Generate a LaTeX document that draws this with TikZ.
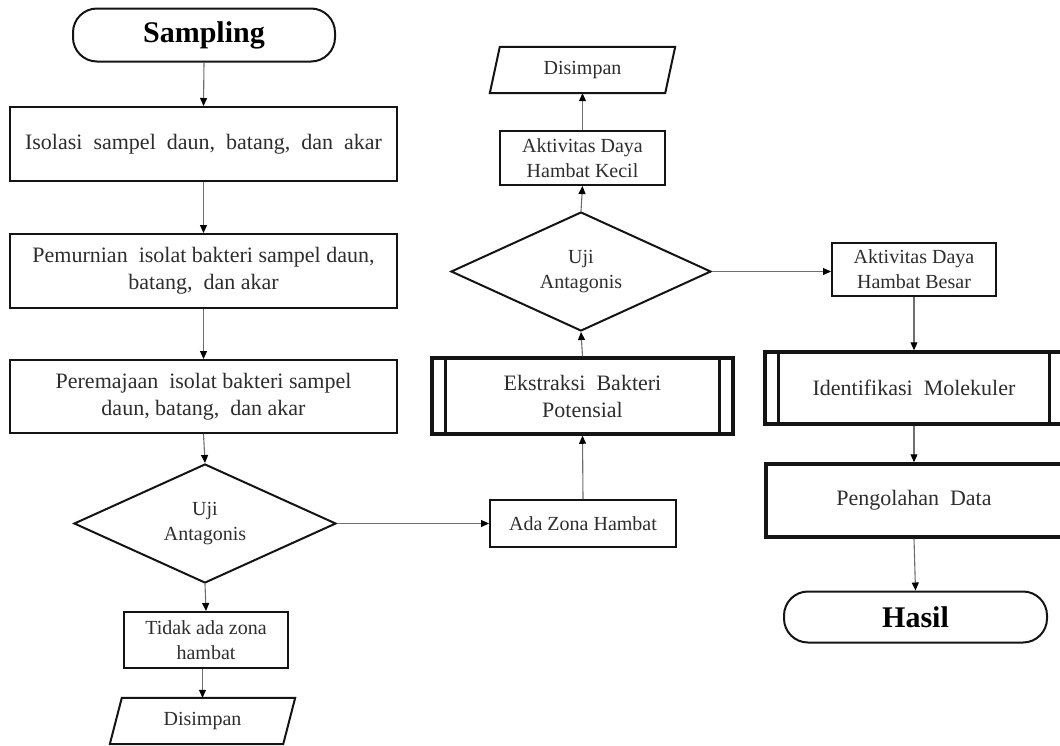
\documentclass[tikz,border=0pt]{standalone}
\usepackage{fontspec}
\setmainfont{Liberation Serif}
\usetikzlibrary{arrows.meta,shapes.geometric}
\definecolor{tc}{RGB}{45,45,45}
\definecolor{lc}{RGB}{20,20,20}
\definecolor{ac}{RGB}{110,110,110}
\begin{document}
\begin{tikzpicture}[x=1pt,y=-1pt,
  txt/.style={text=tc, font=\fontsize{22}{27}\selectfont, align=center},
  stxt/.style={text=tc, font=\fontsize{20}{25}\selectfont, align=center},
  box/.style={draw=lc, line width=2pt, inner sep=0pt, txt},
  sbox/.style={draw=lc, line width=2pt, inner sep=0pt, stxt},
  thickbox/.style={draw=lc, line width=3.5pt, inner sep=0pt, txt},
  term/.style={draw=lc, line width=2pt, rounded corners=24pt, inner sep=0pt, text=black, font=\fontsize{30}{34}\selectfont\bfseries},
  dec/.style={diamond, aspect=2.2, draw=lc, line width=2pt, inner sep=0pt, stxt},
  para/.style={inner sep=0pt, stxt},
  arr/.style={draw=ac, line width=1.1pt, -{Triangle[length=8pt,width=7pt,fill=black,color=black]}},
  bar/.style={draw=lc, line width=3pt},
  pline/.style={draw=lc, line width=2pt, line join=miter}
]
\useasboundingbox (0,0) rectangle (1060,745);
\clip (0,0) rectangle (1060,745);

% left column
\node[term, minimum width=262, minimum height=53] (samp) at (204,35) {Sampling};
\node[box, minimum width=387, minimum height=74] (b1) at (203.5,144) {Isolasi\ \ sampel\ \ daun,\ \ batang,\ \ dan\ \ akar};
\node[box, minimum width=387, minimum height=74] (b2) at (203.5,271) {Pemurnian\ \ isolat\ bakteri\ sampel\ daun,\\batang,\ \ dan\ akar};
\node[box, minimum width=387, minimum height=73] (b3) at (203.5,396.5) {Peremajaan\ \ isolat\ bakteri\ sampel\\daun,\ batang,\ \ dan\ akar};
\node[dec, minimum width=262, minimum height=119] (d1) at (205,523.5) {Uji\\Antagonis};
\node[sbox, minimum width=164, minimum height=56] (tidak) at (206,640) {Tidak\ ada zona\\hambat};
\node[para, minimum width=173, minimum height=46] (dis1) at (202.5,721) {Disimpan};
\draw[pline] ([xshift=-6]dis1.south west) -- ([xshift=6]dis1.north west) -- ([xshift=6]dis1.north east) -- ([xshift=-6]dis1.south east) -- cycle;

% middle column
\node[sbox, minimum width=186, minimum height=47] (ada) at (583,523.5) {Ada Zona Hambat};
\node[thickbox, minimum width=301, minimum height=76] (eks) at (582.5,396) {Ekstraksi\ \ Bakteri\\Potensial};
\draw[bar] ([xshift=15]eks.north west) -- ([xshift=15]eks.south west);
\draw[bar] ([xshift=-15]eks.north east) -- ([xshift=-15]eks.south east);
\node[dec, minimum width=260, minimum height=119] (d2) at (581,271.5) {Uji\\Antagonis};
\node[sbox, minimum width=165, minimum height=54] (kecil) at (582.5,158) {Aktivitas\ Daya\\Hambat Kecil};
\node[para, minimum width=175, minimum height=46] (dis2) at (582.5,70) {Disimpan};
\draw[pline] ([xshift=-5]dis2.south west) -- ([xshift=5]dis2.north west) -- ([xshift=5]dis2.north east) -- ([xshift=-5]dis2.south east) -- cycle;

% right column
\node[sbox, minimum width=164, minimum height=53] (besar) at (914,269.5) {Aktivitas\ Daya\\Hambat Besar};
\node[thickbox, minimum width=298, minimum height=72] (ident) at (914,388) {Identifikasi\ \ Molekuler};
\draw[bar] ([xshift=15]ident.north west) -- ([xshift=15]ident.south west);
\draw[bar] ([xshift=-15]ident.north east) -- ([xshift=-15]ident.south east);
\node[thickbox, minimum width=296, minimum height=73] (peng) at (914,500.5) {Pengolahan\ \ Data};
\node[term, minimum width=263, minimum height=51] (hasil) at (915.5,617) {Hasil};

% connectors
\draw[arr] (samp.south) -- (b1.north);
\draw[arr] (b1.south) -- (b2.north);
\draw[arr] (b2.south) -- (b3.north);
\draw[arr] (b3.south) -- (d1.north);
\draw[arr] (d1.south) -- (tidak.north);
\draw[arr] (dis1.north |- tidak.south) -- (dis1.north);
\draw[arr] (d1.east) -- (ada.west);
\draw[arr] (ada.north) -- (eks.south);
\draw[arr] (eks.north) -- (d2.south);
\draw[arr] (d2.north) -- (kecil.south);
\draw[arr] (kecil.north) -- (dis2.south);
\draw[arr] (d2.east) -- (d2.east -| besar.west);
\draw[arr] (besar.south) -- (ident.north);
\draw[arr] (ident.south) -- (peng.north);
\draw[arr] (peng.south) -- (hasil.north);
\end{tikzpicture}
\end{document}
